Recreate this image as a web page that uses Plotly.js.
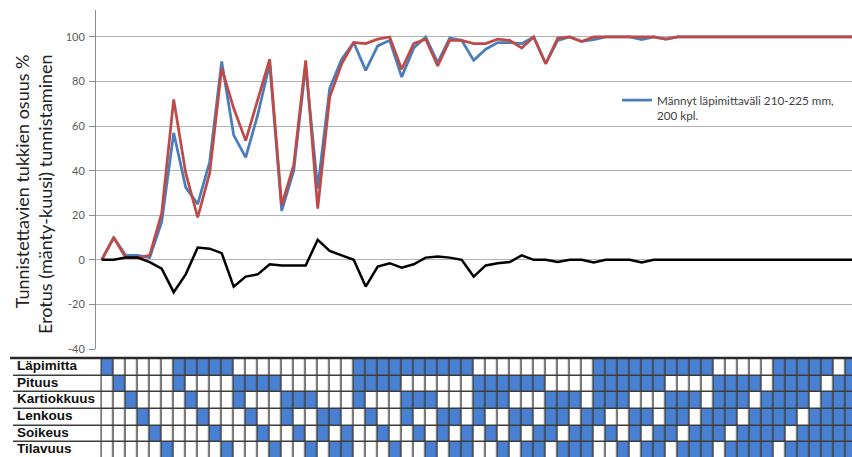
<!DOCTYPE html>
<html>
<head>
<meta charset="utf-8">
<script src="https://cdn.plot.ly/plotly-3.0.1.min.js"></script>
<style>
html,body{margin:0;padding:0;background:#ffffff;}
#chart{width:852px;height:457px;}
</style>
</head>
<body>
<div id="chart"></div>
<script>
// ---- Line chart data (one value per feature combination) ----
const manty = [0, 10, 2, 2, 1, 17, 57, 32.5, 25, 44, 89, 56, 46, 65, 88, 22, 40, 87, 32, 77,
  90, 97.5, 85, 96, 98.5, 82, 95, 100, 88.5, 99.5, 98.5, 89.5, 94.5, 97.5, 97.5, 97, 100, 88, 98.5, 100,
  98, 98.8, 100, 100, 100, 98.8, 100, 99, 100, 100, 100, 100, 100, 100, 100, 100, 100, 100, 100, 100,
  100, 100, 100, 100];
const kuusi = [0, 10, 1, 1, 2, 21, 72, 39, 19, 39, 86, 68, 53.5, 71.5, 90, 24.5, 42.5, 89.5, 23, 73,
  88, 97.5, 97, 99, 100, 85.5, 97, 99, 87, 98.5, 98.5, 97, 97, 99, 98.5, 95, 100, 88, 99.5, 100,
  98, 100, 100, 100, 100, 100, 100, 99, 100, 100, 100, 100, 100, 100, 100, 100, 100, 100, 100, 100,
  100, 100, 100, 100];
const erotus = [0, 0, 1, 1, -1, -4, -14.5, -6.5, 5.5, 5, 3, -12, -7.5, -6.5, -2, -2.5, -2.5, -2.5, 9, 4,
  2, 0, -12, -3, -1.5, -3.5, -2, 1, 1.5, 1, 0, -7.5, -2.5, -1.5, -1, 2, 0, 0, -1, 0,
  0, -1.2, 0, 0, 0, -1.2, 0, 0, 0, 0, 0, 0, 0, 0, 0, 0, 0, 0, 0, 0,
  0, 0, 0, 0];
const yTicks = [-40, -20, 0, 20, 40, 60, 80, 100];

// ---- Table data: which combination columns (1..63) include each feature ----
const rowLabels = ['Läpimitta', 'Pituus', 'Kartiokkuus', 'Lenkous', 'Soikeus', 'Tilavuus'];
const columnCount = 63;
const lapimitta = [1,7,8,9,10,11,22,23,24,25,26,27,28,29,30,31,42,43,44,45,46,47,48,49,50,51,57,58,59,60,61,63];
const pituus = [2,7,12,13,14,15,22,23,24,25,32,33,34,35,36,37,42,43,44,45,46,47,52,53,54,55,57,58,59,60,62,63];
const kartiokkuus = [3,8,12,16,17,18,22,26,27,28,32,33,34,38,39,40,42,43,44,48,49,50,52,53,54,56,57,58,59,61,62,63];
const lenkous = [4,9,13,16,19,20,23,26,29,30,32,35,36,38,39,41,42,45,46,48,49,51,52,53,55,56,57,58,60,61,62,63];
const soikeus = [5,10,14,17,19,21,24,27,29,31,33,35,37,38,40,41,43,45,47,48,50,51,52,54,55,56,57,59,60,61,62,63];
const tilavuus = [6,11,15,18,20,21,25,28,30,31,34,36,37,39,40,41,44,46,47,49,50,51,53,54,55,56,58,59,60,61,62,63];

const featureRows = [lapimitta, pituus, kartiokkuus, lenkous, soikeus, tilavuus];
const colNumbers = Array.from({length: columnCount}, (_, i) => i + 1);
const zTable = featureRows.map(r => colNumbers.map(c => r.includes(c) ? 1 : 0));
const rowIdx = rowLabels.map((_, i) => i);
const xIdx = manty.map((_, i) => i);

const W = 852, H = 457;
const px = v => v / W;
const py = v => (H - v) / H;

const BLUE = '#4a7ebb', RED = '#be4b48', CELL = '#4a80d2', GRIDDARK = '#3c3c3c';
const FONT = 'Lato, "Liberation Sans", sans-serif';

const traces = [
  {
    type: 'heatmap', xaxis: 'x2', yaxis: 'y2',
    x: [-6.89, 0.5], y: rowIdx, z: rowIdx.map(() => [0]),
    colorscale: [[0, '#ffffff'], [1, '#ffffff']], zmin: 0, zmax: 1,
    showscale: false, xgap: 1.5, ygap: 1.5, hoverinfo: 'skip'
  },
  {
    type: 'heatmap', xaxis: 'x2', yaxis: 'y2',
    x: colNumbers, y: rowIdx, z: zTable,
    colorscale: [[0, '#ffffff'], [0.5, '#ffffff'], [0.5, CELL], [1, CELL]], zmin: 0, zmax: 1,
    showscale: false, xgap: 1.5, ygap: 1.5, hoverinfo: 'skip'
  },
  {
    type: 'scatter', mode: 'lines', x: xIdx, y: manty,
    name: 'Männyt läpimittaväli 210-225 mm,<br>200 kpl.',
    line: {color: BLUE, width: 2.75}, showlegend: true
  },
  {
    type: 'scatter', mode: 'lines', x: xIdx, y: kuusi, name: 'Kuuset',
    line: {color: RED, width: 2.75}, showlegend: false
  },
  {
    type: 'scatter', mode: 'lines', x: xIdx, y: erotus, name: 'Erotus',
    line: {color: '#000000', width: 2.5}, showlegend: false
  }
];

const annotations = rowLabels.map((t, i) => ({
  text: '<b>' + t + '</b>', xref: 'x2', yref: 'y2', x: -6.62, y: i - 0.12,
  xanchor: 'left', yanchor: 'middle', showarrow: false, borderpad: 0,
  font: {family: '"Liberation Sans", Arial, sans-serif', size: 13.5, color: '#111111'}
}));
annotations.push({
  text: 'Tunnistettavien tukkien osuus %<br>Erotus (mänty-kuusi) tunnistaminen',
  xref: 'paper', yref: 'paper', x: px(33.5), y: py(194.5),
  xanchor: 'center', yanchor: 'middle', textangle: -90, align: 'right',
  showarrow: false, font: {family: FONT, size: 18, color: '#222222'}
});

const layout = {
  width: W, height: H,
  margin: {l: 0, r: 0, t: 0, b: 0, pad: 0},
  paper_bgcolor: '#ffffff', plot_bgcolor: 'rgba(0,0,0,0)',
  showlegend: true,
  legend: {
    x: px(617), y: py(86), xanchor: 'left', yanchor: 'top',
    bgcolor: 'rgba(0,0,0,0)', borderwidth: 0, valign: 'top',
    font: {family: FONT, size: 11.7, color: '#404040'}
  },
  xaxis: {
    domain: [px(96), 1], range: [-0.475, 62.525],
    visible: false, showgrid: false, zeroline: false, fixedrange: true
  },
  yaxis: {
    domain: [py(349), py(10)], range: [-40, 112.1],
    tickvals: yTicks, ticktext: yTicks.map(String),
    showgrid: true, gridcolor: '#b3b3b3', gridwidth: 1,
    zeroline: false, showline: true, linecolor: '#8c8c8c', linewidth: 1,
    ticks: 'outside', ticklen: 6, tickcolor: '#8c8c8c',
    tickfont: {family: FONT, size: 11, color: '#595959'},
    ticklabelstandoff: 2, fixedrange: true
  },
  xaxis2: {
    domain: [px(13), 1], range: [-6.89, 63.025], anchor: 'y2',
    visible: false, showgrid: false, zeroline: false, fixedrange: true
  },
  yaxis2: {
    domain: [0, py(359)], range: [5.38, -0.5], anchor: 'x2',
    visible: false, showgrid: false, zeroline: false, fixedrange: true
  },
  shapes: [
    {type: 'rect', xref: 'x2 domain', yref: 'y2 domain', x0: 0, x1: 1, y0: 0, y1: 1,
     fillcolor: GRIDDARK, line: {width: 0}, layer: 'below'},
    {type: 'line', xref: 'paper', yref: 'paper', x0: px(10), x1: 1, y0: py(358), y1: py(358),
     line: {color: '#2a2a2a', width: 2.5}}
  ],
  annotations: annotations
};

Plotly.newPlot('chart', traces, layout, {displayModeBar: false, staticPlot: true});
</script>
</body>
</html>
